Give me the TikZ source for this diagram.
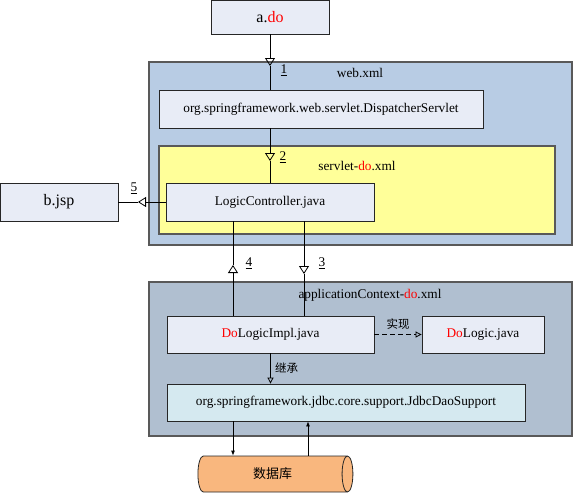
\documentclass[tikz,border=0pt]{standalone}
\usepackage{fontspec}
\setmainfont{Liberation Serif}
\newfontfamily\cjk{Noto Sans CJK SC}
\usepackage{tikz}
\usetikzlibrary{arrows.meta,shapes.geometric}
\newcommand\boxfont{\fontsize{13.3}{16}\selectfont}
\newcommand\bigfont{\fontsize{16}{19}\selectfont}
\newcommand\hanfont{\cjk\fontsize{11.5}{14}\selectfont}
\newcommand\hl[1]{\textcolor{red}{#1}}
\definecolor{boxfill}{RGB}{232,236,246}
\definecolor{webblue}{RGB}{184,204,228}
\definecolor{appgray}{RGB}{176,191,208}
\definecolor{servyellow}{RGB}{255,255,153}
\definecolor{jdbccyan}{RGB}{213,233,240}
\definecolor{dborange}{RGB}{249,183,126}
\tikzset{
	unit/.style 2 args={draw=black!85,fill=boxfill,minimum width=#1,minimum height=#2,inner sep=0pt,font=\boxfont},
	frame/.style 2 args={draw=black!65,line width=1.2pt,minimum width=#1,minimum height=#2,inner sep=0pt},
	tri/.style={-{Triangle[open,width=10pt,length=8pt]}},
	smalltri/.style={-{Triangle[open,width=6pt,length=6pt]}},
	num/.style={font=\boxfont}
}

\begin{document}
\begin{tikzpicture}[x=1pt,y=-1pt,line width=0.8pt]
	\useasboundingbox (0,0) rectangle (573,493);

	% containers
	\node [frame={423}{183},fill=webblue] (web) at (360.5,153.5) {};
	\node [frame={396}{88},fill=servyellow] (servlet) at (357,190) {};
	\node [frame={423}{154},fill=appgray] (appctx) at (360.5,359) {};
	\node [num] (weblabel) at (360,73) {web.xml};
	\node [num] (servletlabel) at (357,166) {servlet-\hl{do}.xml};
	\node [num] (appctxlabel) at (370,295) {applicationContext-\hl{do}.xml};

	% boxes
	\node [unit={118}{34},font=\bigfont] (ado) at (270,17) {a.\hl{do}};
	\node [unit={324}{38}] (dispatcher) at (321,109) {org.springframework.web.servlet.DispatcherServlet};
	\node [unit={208}{38}] (logic) at (270,202) {LogicController.java};
	\node [unit={118}{38},font=\bigfont] (bjsp) at (59,202) {b.jsp};
	\node [unit={207}{37}] (impl) at (270.5,334.5) {\hl{Do}LogicImpl.java};
	\node [unit={122}{37}] (dologic) at (483,334.5) {\hl{Do}Logic.java};
	\node [unit={358}{37},fill=jdbccyan] (jdbc) at (346,402.5) {org.springframework.jdbc.core.support.JdbcDaoSupport};
	\node [cylinder,draw=black!85,fill=dborange,minimum width=36,minimum height=155,shape aspect=0.9,inner sep=0pt,font=\cjk\fontsize{13}{16}\selectfont] (db) at (272.5,474) {数据库};

	% steps
	\coordinate (t1) at (270,66);
	\draw [tri] (ado.south) -- (t1);
	\draw (t1) -- (t1 |- dispatcher.north);
	\node [num] (n1) at (284,70) {\underline{1}};

	\coordinate (t2) at (270,161);
	\draw [tri] (t2 |- dispatcher.south) -- (t2);
	\draw (t2) -- (logic.north);
	\node [num] (n2) at (283,157) {\underline{2}};

	\coordinate (t3) at (304,274);
	\draw [tri] (t3 |- logic.south) -- (t3);
	\draw (t3) -- (t3 |- impl.north);
	\node [num] (n3) at (322,263) {\underline{3}};

	\coordinate (t4) at (233,265);
	\draw [tri] (t4 |- impl.north) -- (t4);
	\draw (t4) -- (t4 |- logic.south);
	\node [num] (n4) at (249,263) {\underline{4}};

	\coordinate (t5) at (138,202);
	\draw [tri] (logic.west) -- (t5);
	\draw (t5) -- (bjsp.east);
	\node [num] (n5) at (134,188) {\underline{5}};

	% impl relations
	\draw [smalltri,dashed,dash pattern=on 5pt off 3pt] (impl.east) -- (dologic.west)
		node [midway,above=1pt,font=\hanfont] {实现};
	\draw [smalltri] (impl.south) -- (impl.south |- jdbc.north)
		node [midway,right=1pt,font=\hanfont] {继承};

	% database
	\coordinate (d1) at (233,0);
	\coordinate (d2) at (308,0);
	\draw [-{Latex[length=5pt,width=4pt]}] (d1 |- jdbc.south) -- (d1 |- db.north);
	\draw [-{Latex[length=5pt,width=4pt]}] (d2 |- db.north) -- (d2 |- jdbc.south);
\end{tikzpicture}
\end{document}
